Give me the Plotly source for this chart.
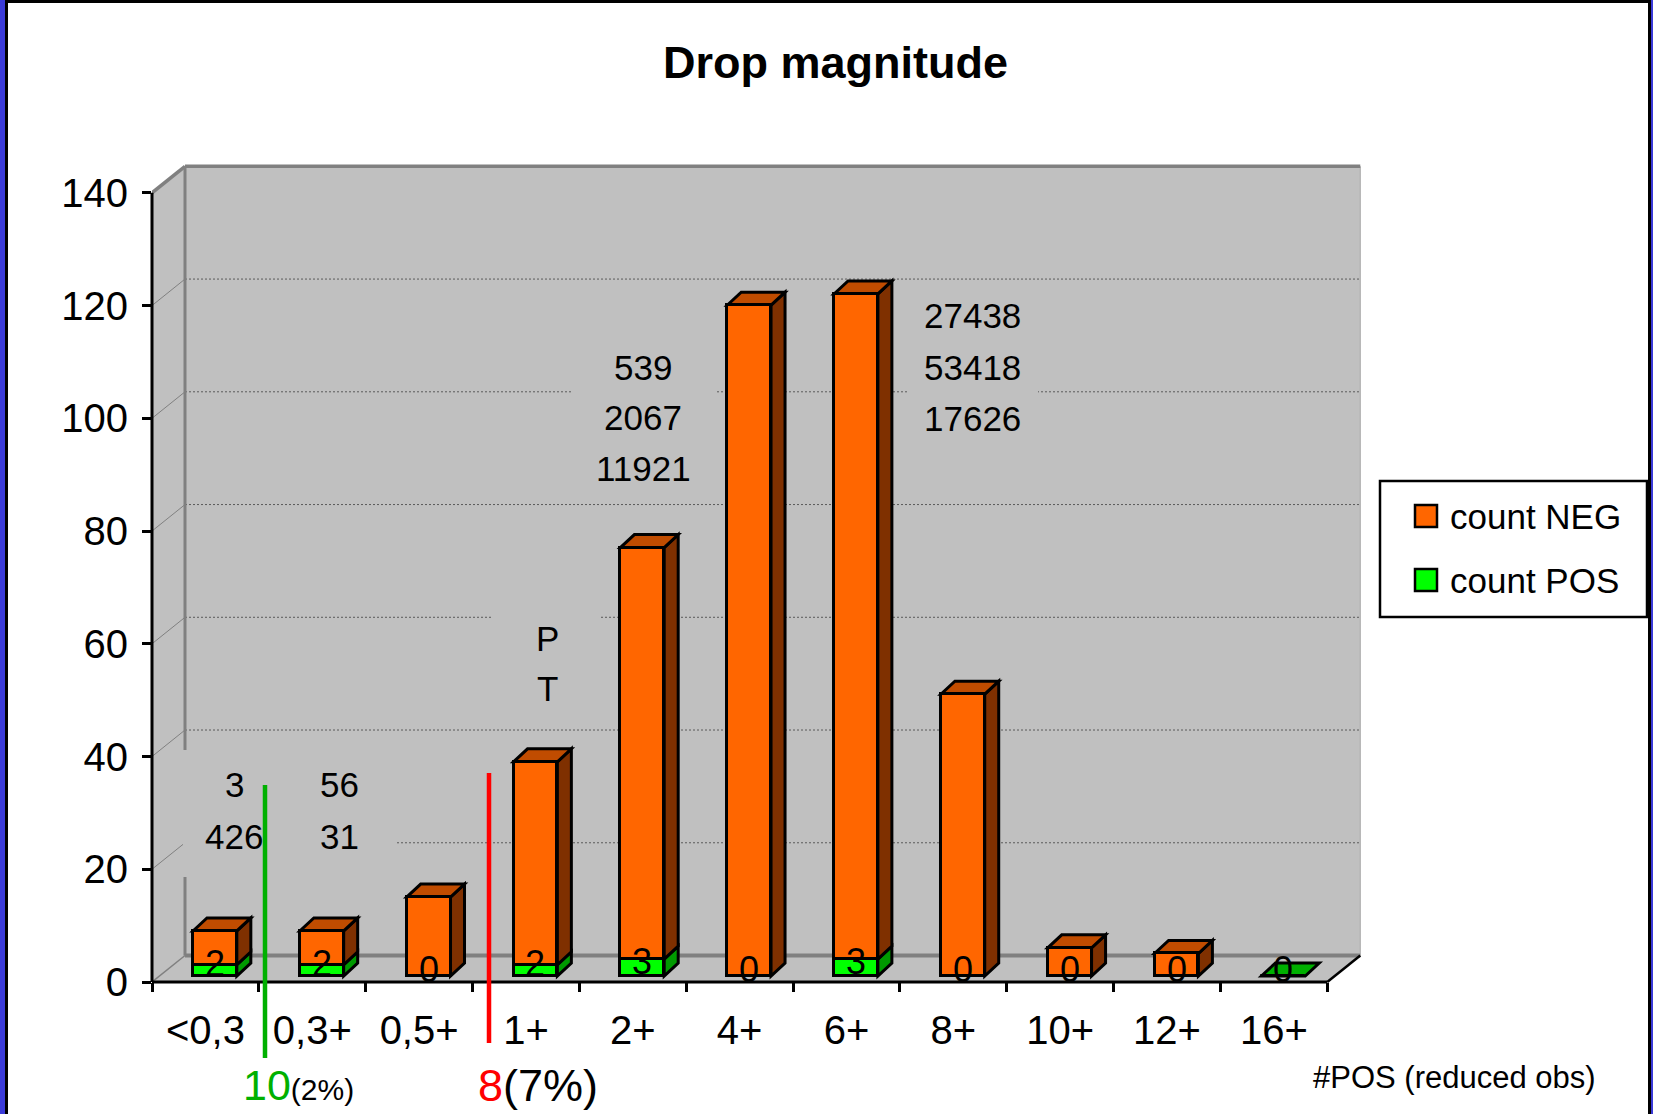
import plotly.graph_objects as go

# ---------------- data ----------------
categories = ["<0,3", "0,3+", "0,5+", "1+", "2+", "4+", "6+", "8+", "10+", "12+", "16+"]
count_neg = [6, 6, 14, 36, 73, 119, 118, 50, 5, 4, 0]
count_pos = [2, 2, 0, 2, 3, 0, 3, 0, 0, 0, 0]
y_ticks = [0, 20, 40, 60, 80, 100, 120, 140]
series_names = ["count NEG", "count POS"]

note_texts = [["3", "426"], ["56", "31"], ["P", "T"],
              ["539", "2067", "11921"], ["27438", "53418", "17626"]]
pos_cut = ["10", "(2%)"]
neg_cut = ["8", "(7%)"]
title_text = "Drop magnitude"
x_note = "#POS (reduced obs)"

# ---------------- geometry ----------------
W, H = 1653, 1114
ML, MT, MR, MB = 152, 159, 283, 132
PW, PH = W - ML - MR, H - MT - MB
N = len(categories)
XMIN, XMAX = -0.5, N - 0.1
YMIN, YMAX = 0, 146
VAL_TOP = y_ticks[-1]
L, R = -0.5, N - 0.5

# depth of the chart box (oblique projection), in axis units
DX, DY = 0.309, 4.70
# bar placement inside the box
BAR_W = 0.41
BAR_SX, BAR_SY = 0.089, 1.06
BAR_DX, BAR_DY = 0.131, 2.31
OUTLINE = 3

FONT = "Liberation Sans, Arial, sans-serif"
WALL = "#c0c0c0"
EDGE = "#808080"
ORANGE, ORANGE_TOP, ORANGE_SIDE = "#ff6600", "#c04c00", "#7f3000"
GREEN, GREEN_TOP, GREEN_SIDE = "#00ff00", "#00b000", "#009a00"


def px_x(px):
    return (px - ML) / PW


def px_y(py):
    return (H - MB - py) / PH


def data_x(px):
    return XMIN + (px - ML) / PW * (XMAX - XMIN)


def data_y(py):
    return YMIN + (H - MB - py) / PH * (YMAX - YMIN)


def dpx(x):
    return (x - XMIN) / (XMAX - XMIN)


def dpy(y):
    return (y - YMIN) / (YMAX - YMIN)


shapes = []


def poly(pts, fill, line_color=None, width=0, ref="data", layer="below"):
    path = "M" + "L".join(f"{x:.4f},{y:.4f}" for x, y in pts) + "Z"
    shapes.append(dict(type="path", path=path,
                       xref="x" if ref == "data" else "paper",
                       yref="y" if ref == "data" else "paper",
                       fillcolor=fill, layer=layer,
                       line=dict(color=line_color or fill, width=width)))


def seg(x0, y0, x1, y1, color, width, dash="solid", ref="data", layer="below"):
    shapes.append(dict(type="line", x0=x0, y0=y0, x1=x1, y1=y1,
                       xref="x" if ref == "data" else "paper",
                       yref="y" if ref == "data" else "paper",
                       layer=layer, line=dict(color=color, width=width, dash=dash)))


def rect(x0, y0, x1, y1, fill, line_color=None, width=0, ref="data", layer="below"):
    shapes.append(dict(type="rect", x0=x0, y0=y0, x1=x1, y1=y1,
                       xref="x" if ref == "data" else "paper",
                       yref="y" if ref == "data" else "paper",
                       layer=layer, fillcolor=fill,
                       line=dict(color=line_color or fill, width=width)))


# ---- chart box: walls and floor ----
rect(L + DX, DY, R + DX, VAL_TOP + DY, WALL)
poly([(L, 0), (L, VAL_TOP), (L + DX, VAL_TOP + DY), (L + DX, DY)], WALL)
poly([(L, 0), (R, 0), (R + DX, DY), (L + DX, DY)], WALL)

for v in y_ticks[1:-1]:
    seg(L + DX, v + DY, R + DX, v + DY, "#5a5a5a", 1, dash="2px,2px")
    seg(L, v, L + DX, v + DY, EDGE, 1)

seg(L + DX, DY, R + DX, DY, EDGE, 4)
seg(L, 0, L + DX, DY, EDGE, 1.5)
seg(L + DX, DY, L + DX, VAL_TOP + DY, EDGE, 3)
seg(R + DX, DY, R + DX, VAL_TOP + DY, "#a8a8a8", 1)
seg(L, VAL_TOP, L + DX, VAL_TOP + DY, EDGE, 3.5)
seg(L + DX, VAL_TOP + DY, R + DX, VAL_TOP + DY, EDGE, 3.5)

# ---- text box backgrounds (hide the gridlines behind the notes) ----
note_boxes_px = [(183, 750, 395, 877), (493, 600, 599, 720),
                 (572, 340, 715, 495), (907, 290, 1038, 440)]
for x0, y0, x1, y1 in note_boxes_px:
    rect(data_x(x0), data_y(y1), data_x(x1), data_y(y0), WALL)

# ---- bars: depth faces drawn from the same values as the fronts ----
bar_x = [i + BAR_SX for i in range(N)]
pos_base = [BAR_SY] * N
neg_base = [BAR_SY + p for p in count_pos]

for i in range(N):
    x0, x1 = bar_x[i] - BAR_W / 2, bar_x[i] + BAR_W / 2
    segs = [(pos_base[i], count_pos[i], GREEN_SIDE, GREEN_TOP),
            (neg_base[i], count_neg[i], ORANGE_SIDE, ORANGE_TOP)]
    top_seg = None
    for b, v, side, top in segs:
        if v > 0:
            t = b + v
            poly([(x1, b), (x1, t), (x1 + BAR_DX, t + BAR_DY), (x1 + BAR_DX, b + BAR_DY)],
                 side, "black", OUTLINE)
            top_seg = (t, top)
    if top_seg is None:
        top_seg = (pos_base[i], GREEN_TOP)
    t, top = top_seg
    poly([(x0, t), (x1, t), (x1 + BAR_DX, t + BAR_DY), (x0 + BAR_DX, t + BAR_DY)],
         top, "black", OUTLINE)

# ---- axis lines ----
seg(0, 0, 0, dpy(VAL_TOP), "black", 3, ref="paper", layer="above")
seg(0, 0, dpx(R), 0, "black", 3, ref="paper", layer="above")
seg(dpx(R), 0, dpx(R + DX), dpy(DY), "black", 2.5, ref="paper", layer="above")

# ---- cut-off markers below the axis ----
seg(px_x(265), px_y(785), px_x(265), px_y(1058), "#00b000", 4.5, ref="paper", layer="above")
seg(px_x(489), px_y(773), px_x(489), px_y(1043), "#ff0000", 4.5, ref="paper", layer="above")

# ---- legend box ----
rect(px_x(1380), px_y(617), px_x(1647), px_y(481), "white", "black", 2.5,
     ref="paper", layer="above")
legend_rows_py = [516, 580]
legend_colors = [ORANGE, GREEN]
for py, col in zip(legend_rows_py, legend_colors):
    rect(px_x(1415), px_y(py + 11), px_x(1437), px_y(py - 11), col, "black", 2.5,
         ref="paper", layer="above")

# ---- page frame ----
rect(px_x(0), px_y(H), px_x(5), px_y(0), "#3b3bd8", ref="paper", layer="above")
rect(px_x(5), px_y(H), px_x(8), px_y(0), "black", ref="paper", layer="above")
rect(px_x(1651), px_y(H), px_x(W), px_y(0), "#3b3bd8", ref="paper", layer="above")
rect(px_x(1648), px_y(H), px_x(1651), px_y(0), "black", ref="paper", layer="above")
rect(px_x(5), px_y(3), px_x(1651), px_y(0), "black", ref="paper", layer="above")

# ---------------- traces ----------------
fig = go.Figure()
fig.add_trace(go.Bar(
    x=bar_x, y=count_pos, base=pos_base, width=BAR_W, name=series_names[1],
    marker=dict(color=GREEN, line=dict(color="black", width=OUTLINE)),
    showlegend=False, hoverinfo="skip"))
fig.add_trace(go.Bar(
    x=bar_x, y=count_neg, base=neg_base, width=BAR_W, name=series_names[0],
    marker=dict(color=ORANGE, line=dict(color="black", width=OUTLINE)),
    showlegend=False, hoverinfo="skip"))
# carrier for the boundary tick axis
fig.add_trace(go.Scatter(x=[], y=[], xaxis="x2", yaxis="y", showlegend=False,
                         hoverinfo="skip"))

# ---------------- annotations ----------------
ann = []


def text_at(px, py, text, size, xanchor="center", bold=False):
    ann.append(dict(x=px_x(px), y=px_y(py), xref="paper", yref="paper",
                    xanchor=xanchor, yanchor="middle", showarrow=False,
                    text=f"<b>{text}</b>" if bold else text,
                    font=dict(family=FONT, size=size, color="black")))


for i, p in enumerate(count_pos):
    ann.append(dict(x=bar_x[i], y=pos_base[i] + p / 2 + BAR_DY / 2, xref="x", yref="y",
                    xanchor="center", yanchor="middle",
                    text=str(p), showarrow=False,
                    font=dict(family=FONT, size=36, color="black")))

note_px = [[(234, 784), (234, 836)], [(339, 784), (339, 836)],
           [(547, 638), (547, 688)],
           [(643, 367), (643, 417), (643, 468)],
           [(972, 315), (972, 367), (972, 418)]]
for lines, places in zip(note_texts, note_px):
    for txt, (px, py) in zip(lines, places):
        text_at(px, py, txt, 35)

text_at(241, 1085,
        f'<span style="color:#00b000">{pos_cut[0]}</span>'
        f'<span style="font-size:30px">{pos_cut[1]}</span>', 43, xanchor="left")
text_at(476, 1085,
        f'<span style="color:#ff0000">{neg_cut[0]}</span>{neg_cut[1]}', 45,
        xanchor="left")
text_at(1454, 1077, x_note, 31)
text_at(835, 63, title_text, 45, bold=True)
for py, name in zip(legend_rows_py, series_names):
    text_at(1448, py, name, 35, xanchor="left")

# ---------------- layout ----------------
fig.update_layout(
    width=W, height=H,
    margin=dict(l=ML, r=MR, t=MT, b=MB, autoexpand=False),
    paper_bgcolor="white", plot_bgcolor="white",
    barmode="overlay", bargap=0,
    hovermode=False,
    shapes=shapes, annotations=ann,
    font=dict(family=FONT, color="black"),
    xaxis=dict(range=[XMIN, XMAX], tickmode="array", tickvals=list(range(N)),
               ticktext=[c.replace("<", "&lt;") for c in categories],
               ticks="", showline=False, showgrid=False, zeroline=False,
               ticklabelstandoff=21,
               tickfont=dict(family=FONT, size=40, color="black")),
    xaxis2=dict(range=[XMIN, XMAX], overlaying="x", anchor="y", side="bottom",
                tickmode="array", tickvals=[i - 0.5 for i in range(N + 1)],
                ticks="outside", ticklen=9, tickwidth=3, tickcolor="black",
                showticklabels=False, showline=False, showgrid=False, zeroline=False),
    yaxis=dict(range=[YMIN, YMAX], tickmode="array", tickvals=y_ticks,
               ticks="outside", ticklen=9, tickwidth=3, tickcolor="black",
               showline=False, showgrid=False, zeroline=False,
               ticklabelstandoff=6,
               tickfont=dict(family=FONT, size=40, color="black")),
)

fig.write_html("out.html")
